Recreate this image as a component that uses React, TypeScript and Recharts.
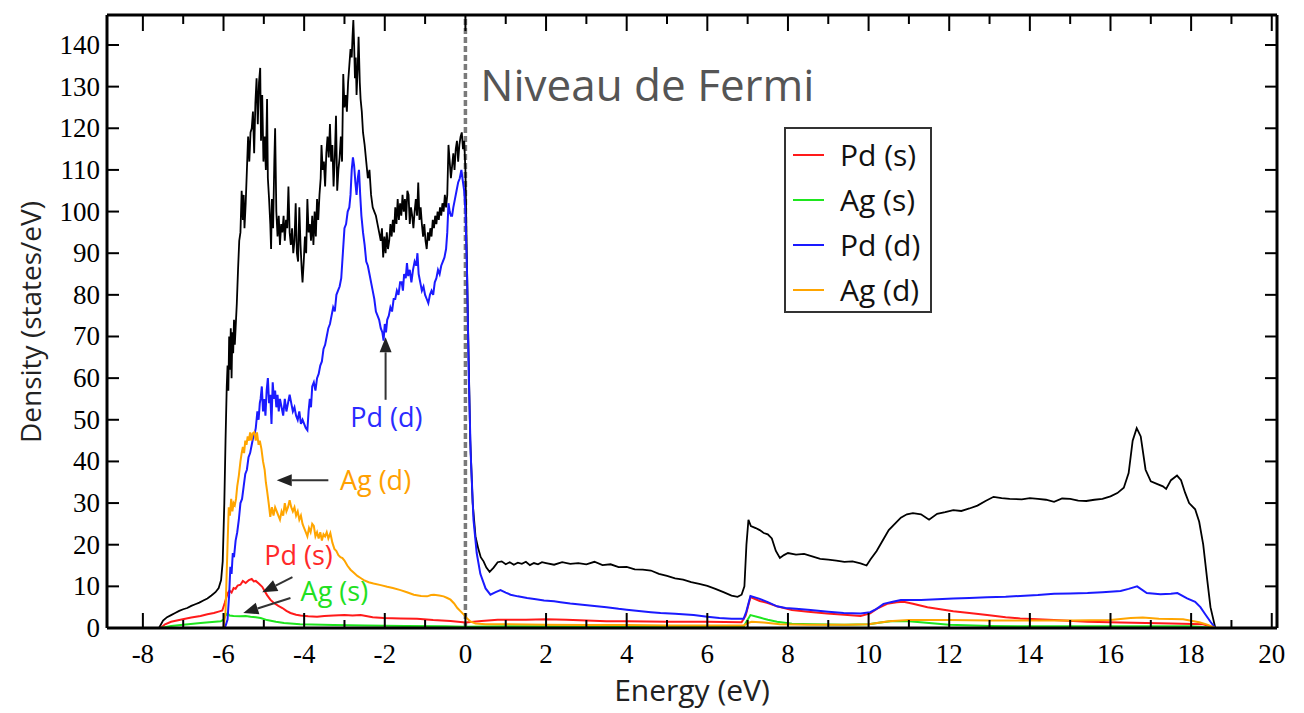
import React from 'react';
import {
  LineChart,
  Line,
  XAxis,
  YAxis,
  ReferenceLine,
  ReferenceDot,
} from 'recharts';

// density of states, [energy (eV), states/eV]
const totalDos: [number, number][] = [
  [-7.6, 0], [-7.5, 1.8], [-7.4, 2.6], [-7.3, 3.1], [-7.2, 3.6], [-7.1, 4.1], [-7.0, 4.5], [-6.9, 4.8],
  [-6.8, 5.3], [-6.7, 5.7], [-6.6, 6.1], [-6.5, 6.6], [-6.4, 7.1], [-6.3, 7.8], [-6.2, 8.6], [-6.12, 9.6],
  [-6.06, 11.5], [-6.02, 16], [-5.98, 30], [-5.95, 45], [-5.92, 58], [-5.9, 63], [-5.88, 57], [-5.86, 70],
  [-5.84, 62], [-5.82, 72], [-5.8, 60], [-5.78, 71], [-5.76, 66], [-5.74, 74], [-5.72, 68], [-5.7, 72],
  [-5.67, 78], [-5.64, 86], [-5.61, 93], [-5.58, 95], [-5.55, 105], [-5.52, 98], [-5.5, 104], [-5.48, 96],
  [-5.45, 102], [-5.42, 110], [-5.39, 118], [-5.36, 112], [-5.33, 119], [-5.3, 120], [-5.27, 124], [-5.24, 114],
  [-5.21, 126], [-5.18, 132], [-5.15, 121], [-5.12, 131], [-5.09, 134.5], [-5.07, 117], [-5.04, 128], [-5.01, 112],
  [-4.98, 118], [-4.95, 110], [-4.92, 127], [-4.9, 108], [-4.87, 103], [-4.84, 97], [-4.82, 91], [-4.8, 103],
  [-4.77, 96], [-4.74, 112], [-4.72, 120], [-4.69, 100], [-4.66, 94], [-4.63, 99], [-4.6, 92], [-4.57, 97],
  [-4.54, 95], [-4.51, 99], [-4.48, 93], [-4.45, 98], [-4.42, 96], [-4.39, 106], [-4.36, 95], [-4.33, 92],
  [-4.3, 96], [-4.27, 90], [-4.24, 93], [-4.21, 102], [-4.18, 90], [-4.15, 88], [-4.12, 101], [-4.09, 92],
  [-4.06, 86], [-4.04, 83], [-4.01, 88], [-3.98, 94], [-3.95, 90], [-3.92, 103], [-3.89, 95], [-3.86, 97],
  [-3.83, 93], [-3.8, 99], [-3.77, 92], [-3.74, 100], [-3.71, 94], [-3.68, 103], [-3.65, 98], [-3.62, 104],
  [-3.59, 108], [-3.57, 116], [-3.54, 110], [-3.51, 112], [-3.48, 106], [-3.45, 114], [-3.42, 118], [-3.39, 113],
  [-3.36, 121], [-3.33, 112], [-3.3, 116], [-3.27, 106], [-3.24, 113], [-3.21, 123], [-3.18, 105], [-3.15, 110],
  [-3.12, 113], [-3.09, 118], [-3.06, 112], [-3.03, 133], [-3.0, 125], [-2.97, 128], [-2.94, 124], [-2.91, 131],
  [-2.88, 135], [-2.85, 139], [-2.82, 137], [-2.8, 142], [-2.78, 146], [-2.76, 140], [-2.74, 132], [-2.72, 137],
  [-2.7, 128], [-2.67, 135], [-2.65, 142], [-2.62, 131], [-2.6, 127], [-2.57, 124], [-2.54, 119], [-2.5, 116],
  [-2.46, 112], [-2.42, 108], [-2.38, 110], [-2.34, 104], [-2.3, 101], [-2.26, 100], [-2.22, 99], [-2.18, 97],
  [-2.14, 95], [-2.1, 93], [-2.07, 96], [-2.04, 89], [-2.01, 94], [-1.98, 90], [-1.95, 95], [-1.92, 91],
  [-1.89, 93], [-1.86, 97], [-1.83, 94], [-1.8, 98], [-1.77, 95], [-1.74, 101], [-1.71, 97], [-1.68, 103],
  [-1.65, 98], [-1.62, 102], [-1.59, 99], [-1.56, 104], [-1.53, 100], [-1.5, 103], [-1.47, 98], [-1.44, 105],
  [-1.41, 104], [-1.38, 97], [-1.35, 101], [-1.32, 99], [-1.29, 96], [-1.26, 100], [-1.23, 103], [-1.2, 99],
  [-1.17, 107], [-1.14, 98], [-1.11, 101], [-1.08, 97], [-1.05, 94], [-1.02, 97], [-0.99, 93], [-0.96, 91],
  [-0.93, 95], [-0.9, 93], [-0.87, 96], [-0.84, 94], [-0.81, 98], [-0.78, 96], [-0.75, 99], [-0.72, 97],
  [-0.69, 100], [-0.66, 98], [-0.63, 101], [-0.6, 99], [-0.57, 102], [-0.54, 100], [-0.51, 104], [-0.48, 101],
  [-0.45, 104], [-0.42, 116], [-0.39, 112], [-0.36, 108], [-0.33, 111], [-0.3, 114], [-0.27, 110], [-0.24, 115],
  [-0.21, 117], [-0.18, 112], [-0.15, 116], [-0.12, 118], [-0.09, 119], [-0.06, 115], [-0.03, 117], [0.0, 110],
  [0.03, 92], [0.07, 70], [0.12, 45], [0.18, 30], [0.25, 22], [0.32, 19], [0.38, 17], [0.45, 16],
  [0.52, 14.5], [0.6, 13.5], [0.7, 14.5], [0.8, 15.8], [0.9, 16], [1.0, 15.3], [1.1, 15.8], [1.2, 15.2],
  [1.3, 15.7], [1.4, 15.4], [1.5, 15.9], [1.6, 15.1], [1.7, 15.6], [1.8, 15.3], [1.9, 15.8], [2.0, 15.6],
  [2.2, 15.2], [2.4, 15.8], [2.6, 15.4], [2.8, 15.6], [3.0, 15.3], [3.2, 15.9], [3.4, 15.1], [3.6, 15.3],
  [3.8, 14.6], [4.0, 14.7], [4.2, 14.1], [4.4, 14.0], [4.6, 13.8], [4.8, 13.0], [5.0, 12.5], [5.2, 11.9],
  [5.4, 11.6], [5.6, 11.0], [5.8, 10.6], [6.0, 10.1], [6.2, 9.4], [6.4, 8.6], [6.6, 7.8], [6.75, 7.5],
  [6.85, 8.0], [6.92, 10], [6.97, 20], [7.02, 26], [7.08, 24.5], [7.2, 24], [7.3, 23.5], [7.4, 22.8],
  [7.5, 22.5], [7.6, 21.5], [7.7, 18.5], [7.8, 16.8], [7.9, 17.5], [8.0, 18], [8.2, 17.6], [8.4, 17.8],
  [8.6, 17.2], [8.8, 16.6], [9.0, 16.4], [9.2, 16.2], [9.4, 15.9], [9.6, 16.0], [9.8, 15.5], [9.95, 15.0],
  [10.05, 16.5], [10.2, 18.5], [10.35, 21], [10.5, 23.5], [10.65, 25], [10.8, 26.5], [10.95, 27.3], [11.1, 27.6],
  [11.3, 27.3], [11.5, 26], [11.7, 27.4], [11.9, 27.8], [12.1, 28.3], [12.3, 28.1], [12.5, 28.7], [12.7, 29.4],
  [12.9, 30.5], [13.1, 31.5], [13.3, 31.2], [13.5, 31.0], [13.8, 30.9], [14.0, 31.2], [14.2, 31.0], [14.4, 30.8],
  [14.6, 30.3], [14.8, 31.1], [15.0, 31.0], [15.2, 30.6], [15.4, 30.5], [15.6, 30.8], [15.8, 31.0], [16.0, 31.6],
  [16.17, 32.4], [16.33, 33.7], [16.45, 37.2], [16.55, 45], [16.65, 48], [16.75, 46], [16.87, 38], [17.0, 35.2],
  [17.15, 34.6], [17.3, 34], [17.38, 33.4], [17.5, 35.5], [17.65, 36.6], [17.75, 35.5], [17.85, 32.5], [17.95, 30],
  [18.1, 28.5], [18.2, 25.5], [18.3, 20], [18.4, 11.5], [18.48, 5], [18.6, 0],
];

const pdS: [number, number][] = [
  [-7.56, 0], [-7.45, 0.9], [-7.3, 1.5], [-7.07, 2], [-6.8, 2.5], [-6.57, 2.9], [-6.4, 3.3], [-6.24, 3.6],
  [-6.1, 4], [-6.03, 4.2], [-5.97, 6], [-5.9, 8.3], [-5.85, 9], [-5.8, 8.5], [-5.75, 9.6], [-5.7, 9.4],
  [-5.65, 10.2], [-5.58, 10.4], [-5.52, 11.3], [-5.45, 10.8], [-5.37, 11.5], [-5.3, 11.8], [-5.25, 11.2], [-5.2, 11.3],
  [-5.12, 10.6], [-5.04, 9.9], [-4.98, 8.9], [-4.92, 7.9], [-4.84, 6.8], [-4.75, 6], [-4.64, 5.3], [-4.54, 4.8],
  [-4.44, 4.1], [-4.34, 3.6], [-4.2, 3.2], [-4.09, 3], [-3.9, 2.8], [-3.68, 2.7], [-3.5, 2.9], [-3.27, 3.0],
  [-3.0, 3.1], [-2.8, 3.0], [-2.6, 3.1], [-2.3, 2.6], [-2.03, 2.4], [-1.6, 2.3], [-1.2, 2.2], [-0.8, 1.9],
  [-0.37, 1.7], [0.0, 1.3], [0.4, 1.7], [0.8, 2.0], [1.5, 2.0], [2.0, 2.1], [2.5, 2.0], [3.0, 1.8],
  [3.5, 1.6], [4.0, 1.6], [5.0, 1.5], [6.0, 1.5], [6.85, 1.4], [6.95, 3], [7.07, 7.4], [7.3, 6.5],
  [7.5, 6], [7.73, 5.2], [8.1, 4.3], [8.5, 3.9], [8.97, 3.5], [9.4, 3.2], [9.8, 2.9], [10.04, 3.5],
  [10.2, 4.6], [10.46, 5.8], [10.7, 6.2], [10.87, 6.3], [11.1, 5.8], [11.46, 5], [12.1, 4], [12.5, 3.6],
  [12.94, 3.1], [13.4, 2.6], [13.76, 2.3], [14.6, 1.9], [15.43, 1.5], [16.25, 1.3], [17.5, 1.1], [18.3, 0.9],
  [18.6, 0],
];

const agS: [number, number][] = [
  [-7.56, 0], [-7.3, 0.5], [-7.0, 0.8], [-6.57, 1.2], [-6.07, 1.6], [-6.0, 2], [-5.95, 3], [-5.9, 3.6],
  [-5.85, 3], [-5.75, 2.9], [-5.6, 2.8], [-5.45, 2.9], [-5.33, 2.7], [-5.2, 2.6], [-5.08, 2.4], [-4.92, 1.9],
  [-4.7, 1.5], [-4.5, 1.2], [-4.1, 0.9], [-3.27, 0.7], [-2.5, 0.6], [-1.5, 0.5], [-0.5, 0.4], [0.0, 0.3],
  [1.0, 0.4], [2.0, 0.4], [3.0, 0.35], [4.0, 0.35], [5.0, 0.3], [6.0, 0.3], [6.9, 0.3], [6.97, 1.5],
  [7.07, 3.1], [7.3, 2.5], [7.5, 2], [7.73, 1.5], [8.1, 1], [8.6, 0.9], [9.4, 0.8], [10.0, 0.9],
  [10.3, 1.3], [10.6, 1.7], [11.0, 1.6], [11.5, 1.2], [12.0, 0.8], [13.0, 0.5], [14.0, 0.4], [16.0, 0.4],
  [18.0, 0.4], [18.6, 0],
];

const pdD: [number, number][] = [
  [-6.0, 0], [-5.95, 0.5], [-5.9, 2], [-5.86, 8], [-5.83, 14.7], [-5.8, 13], [-5.77, 18], [-5.74, 17],
  [-5.7, 21], [-5.66, 23], [-5.62, 26], [-5.58, 30], [-5.54, 31], [-5.5, 34], [-5.46, 37], [-5.42, 38],
  [-5.38, 41], [-5.34, 42], [-5.3, 44], [-5.26, 46], [-5.22, 47], [-5.2, 48], [-5.16, 52], [-5.13, 50],
  [-5.1, 54], [-5.08, 55], [-5.05, 58], [-5.02, 52], [-4.99, 55], [-4.96, 51], [-4.93, 57], [-4.9, 60],
  [-4.87, 54], [-4.84, 56], [-4.81, 49], [-4.78, 59], [-4.75, 55], [-4.72, 57], [-4.69, 53], [-4.66, 56],
  [-4.63, 52], [-4.6, 55], [-4.56, 53], [-4.52, 51], [-4.48, 55], [-4.44, 52], [-4.4, 54], [-4.36, 56],
  [-4.32, 54], [-4.28, 52], [-4.24, 53], [-4.2, 51], [-4.16, 50], [-4.12, 52], [-4.08, 49], [-4.04, 50],
  [-4.0, 49], [-3.96, 48], [-3.92, 47.5], [-3.89, 52], [-3.86, 55], [-3.83, 53], [-3.8, 58], [-3.76, 59],
  [-3.72, 57], [-3.68, 60], [-3.64, 61], [-3.6, 63], [-3.56, 64], [-3.52, 67], [-3.48, 68], [-3.44, 70],
  [-3.4, 72], [-3.36, 73], [-3.32, 75], [-3.28, 77], [-3.24, 76], [-3.2, 80], [-3.16, 81], [-3.12, 82],
  [-3.08, 84], [-3.04, 90], [-3.0, 96], [-2.96, 97], [-2.92, 100], [-2.88, 101], [-2.85, 104], [-2.82, 110],
  [-2.79, 113], [-2.76, 111], [-2.73, 107], [-2.7, 104], [-2.67, 108], [-2.64, 110], [-2.61, 104], [-2.58, 99],
  [-2.54, 95], [-2.5, 92], [-2.46, 88], [-2.42, 87], [-2.38, 85], [-2.34, 83], [-2.3, 81], [-2.26, 79],
  [-2.22, 76], [-2.18, 75], [-2.14, 74], [-2.1, 72], [-2.06, 71], [-2.03, 69], [-2.0, 73], [-1.97, 71],
  [-1.94, 74], [-1.9, 75], [-1.86, 77], [-1.82, 76], [-1.78, 79], [-1.74, 79], [-1.7, 81], [-1.66, 80],
  [-1.62, 83], [-1.58, 83], [-1.55, 81], [-1.52, 85], [-1.48, 84], [-1.45, 87.6], [-1.42, 84.5], [-1.38, 86],
  [-1.34, 83], [-1.3, 86], [-1.26, 88], [-1.22, 87], [-1.19, 90], [-1.16, 85], [-1.12, 83], [-1.08, 81],
  [-1.04, 82], [-1.0, 80], [-0.96, 79], [-0.92, 78], [-0.88, 80], [-0.84, 81], [-0.8, 80], [-0.76, 83],
  [-0.72, 84], [-0.68, 86], [-0.64, 85], [-0.6, 87], [-0.56, 88], [-0.52, 89], [-0.48, 91], [-0.45, 95],
  [-0.42, 102], [-0.39, 100], [-0.36, 99], [-0.33, 99], [-0.3, 101], [-0.26, 103], [-0.22, 105], [-0.18, 107],
  [-0.14, 108], [-0.1, 110], [-0.06, 107], [-0.03, 105], [0.0, 100], [0.04, 85], [0.08, 62], [0.13, 42],
  [0.2, 26], [0.28, 18], [0.37, 13], [0.5, 9.5], [0.62, 8], [0.75, 8.6], [0.87, 9.1], [1.0, 8.5],
  [1.12, 8], [1.3, 7.6], [1.53, 7.2], [1.75, 6.9], [1.95, 6.6], [2.2, 6.4], [2.36, 6.2], [2.6, 5.9],
  [2.9, 5.6], [3.2, 5.3], [3.5, 5.0], [3.8, 4.6], [4.0, 4.4], [4.3, 4.1], [4.6, 3.8], [4.84, 3.6],
  [5.2, 3.4], [5.66, 3.1], [6.0, 2.7], [6.3, 2.4], [6.6, 2.2], [6.9, 2.2], [6.97, 4], [7.07, 7.7],
  [7.3, 7.0], [7.5, 6.2], [7.73, 5.2], [7.94, 4.8], [8.2, 4.6], [8.56, 4.3], [9.0, 3.9], [9.38, 3.6],
  [9.8, 3.5], [10.04, 3.8], [10.2, 4.6], [10.37, 5.8], [10.6, 6.3], [10.8, 6.7], [11.3, 6.7], [11.7, 6.9],
  [12.1, 7.1], [12.5, 7.2], [12.94, 7.4], [13.4, 7.5], [13.76, 7.7], [14.2, 7.9], [14.6, 8.2], [15.0, 8.3],
  [15.43, 8.4], [15.8, 8.6], [16.25, 8.9], [16.45, 9.4], [16.66, 10], [16.9, 8.4], [17.24, 8.1], [17.5, 8.2],
  [17.66, 8.4], [17.9, 7.1], [18.1, 6.3], [18.23, 5], [18.35, 3.3], [18.48, 1.5], [18.6, 0],
];

const agD: [number, number][] = [
  [-6.0, 0], [-5.95, 4], [-5.9, 20], [-5.87, 29], [-5.84, 27], [-5.81, 31], [-5.78, 28], [-5.75, 30],
  [-5.72, 29.5], [-5.69, 31], [-5.66, 34], [-5.62, 36.6], [-5.58, 40], [-5.55, 42], [-5.52, 43.5], [-5.49, 42],
  [-5.46, 45], [-5.43, 44], [-5.4, 46], [-5.37, 45], [-5.34, 47], [-5.31, 45], [-5.28, 46.7], [-5.24, 47],
  [-5.2, 45], [-5.17, 47], [-5.13, 44], [-5.1, 45], [-5.06, 43], [-5.02, 40], [-4.98, 38], [-4.95, 35],
  [-4.92, 33], [-4.88, 30], [-4.84, 26.7], [-4.8, 29], [-4.76, 27], [-4.72, 29], [-4.68, 28], [-4.64, 27],
  [-4.6, 26], [-4.56, 28], [-4.52, 27], [-4.48, 30], [-4.44, 28], [-4.4, 29], [-4.36, 30.7], [-4.32, 29],
  [-4.28, 28], [-4.24, 29], [-4.2, 27], [-4.16, 28], [-4.12, 26], [-4.08, 27], [-4.04, 25], [-4.0, 24],
  [-3.96, 23], [-3.92, 22], [-3.88, 24], [-3.84, 23], [-3.8, 25], [-3.76, 24.5], [-3.72, 22], [-3.68, 23],
  [-3.64, 21.5], [-3.6, 23], [-3.56, 21], [-3.52, 22.5], [-3.48, 22], [-3.44, 23], [-3.4, 21.5], [-3.35, 22.8],
  [-3.3, 20.5], [-3.25, 19], [-3.2, 18.5], [-3.15, 17.5], [-3.1, 17], [-3.05, 16.8], [-3.0, 16.2], [-2.93, 15],
  [-2.85, 14], [-2.76, 13.2], [-2.68, 12.5], [-2.6, 12], [-2.52, 11.5], [-2.4, 11], [-2.28, 10.7], [-2.1, 10.3],
  [-1.94, 9.9], [-1.8, 9.6], [-1.61, 9.1], [-1.45, 8.6], [-1.28, 8], [-1.1, 7.7], [-0.95, 7.6], [-0.85, 7.9],
  [-0.78, 8], [-0.65, 7.8], [-0.54, 7.6], [-0.45, 7.2], [-0.37, 6.8], [-0.28, 5.9], [-0.2, 4.8], [-0.1, 3.8],
  [-0.04, 3.2], [0.05, 2.2], [0.12, 1.6], [0.25, 1.1], [0.5, 0.9], [1.0, 0.9], [2.0, 0.8], [3.0, 0.7],
  [4.0, 0.7], [5.0, 0.6], [6.0, 0.6], [6.9, 0.6], [7.0, 1.2], [7.1, 1.5], [7.4, 1.3], [7.8, 0.9],
  [8.5, 0.8], [9.5, 0.8], [10.0, 0.9], [10.5, 1.6], [11.0, 1.9], [12.0, 1.9], [13.0, 1.8], [14.0, 1.8],
  [15.0, 1.8], [16.0, 1.9], [16.5, 2.4], [16.8, 2.5], [17.2, 2.2], [17.8, 2.1], [18.2, 1.4], [18.4, 0.8],
  [18.6, 0],
];

const xTicks = [-8, -7, -6, -5, -4, -3, -2, -1, 0, 1, 2, 3, 4, 5, 6, 7, 8, 9, 10, 11, 12, 13, 14, 15, 16, 17, 18, 19, 20];
const yTicks = [0, 10, 20, 30, 40, 50, 60, 70, 80, 90, 100, 110, 120, 130, 140];
const xDomain: [number, number] = [-8.89, 20.13];
const yDomain: [number, number] = [0, 147.2];

const series = [
  { key: 'total', name: 'Total', color: '#000000', pts: totalDos },
  { key: 'pdS', name: 'Pd (s)', color: '#ff1a1a', pts: pdS },
  { key: 'agS', name: 'Ag (s)', color: '#1ee61e', pts: agS },
  { key: 'pdD', name: 'Pd (d)', color: '#1a1aff', pts: pdD },
  { key: 'agD', name: 'Ag (d)', color: '#ffa500', pts: agD },
];

// annotations: label text, text anchor point, arrow start and arrow tip
const notes = [
  { text: 'Pd (d)', color: '#2b2bff', at: [-1.96, 48.3], from: [-1.98, 54.8], to: [-1.98, 69.8] },
  { text: 'Ag (d)', color: '#ffa000', at: [-2.23, 33.1], from: [-3.4, 35.5], to: [-4.68, 35.5] },
  { text: 'Pd (s)', color: '#ff2a2a', at: [-4.14, 15.1], from: [-4.29, 12.2], to: [-5.04, 8.6] },
  { text: 'Ag (s)', color: '#22e022', at: [-3.25, 6.6], from: [-4.34, 7.2], to: [-5.51, 3.6] },
];

const chartData = series
  .flatMap((s) => s.pts.map(([x, y]) => ({ x, [s.key]: y })))
  .sort((a, b) => a.x - b.x);

const serif = '"Liberation Serif", "Times New Roman", serif';
const sans = '"Open Sans", "Noto Sans", sans-serif';

const BottomTick = (props: any) => {
  const { x, y, payload } = props;
  const major = payload.value % 2 === 0;
  return (
    <g>
      <line x1={x} x2={x} y1={y} y2={y - (major ? 15 : 8)} stroke="#000" strokeWidth={2} />
      {major && (
        <text x={x} y={y + 35} textAnchor="middle" fontFamily={serif} fontSize={27} fill="#000">
          {payload.value}
        </text>
      )}
    </g>
  );
};

const TopTick = (props: any) => {
  const { x, y, payload } = props;
  const major = payload.value % 2 === 0;
  return <line x1={x} x2={x} y1={y} y2={y + (major ? 16 : 9)} stroke="#000" strokeWidth={2} />;
};

const LeftTick = (props: any) => {
  const { x, y, payload } = props;
  return (
    <g>
      <line x1={x} x2={x + 12} y1={y} y2={y} stroke="#000" strokeWidth={2} />
      <text x={x - 7} y={y + 9} textAnchor="end" fontFamily={serif} fontSize={27} fill="#000">
        {payload.value}
      </text>
    </g>
  );
};

const RightTick = (props: any) => {
  const { x, y } = props;
  return <line x1={x} x2={x - 12} y1={y} y2={y} stroke="#000" strokeWidth={2} />;
};

const ArrowShape = (props: any) => {
  const { x1, y1, x2, y2 } = props;
  const dx = x2 - x1;
  const dy = y2 - y1;
  const len = Math.hypot(dx, dy) || 1;
  const ux = dx / len;
  const uy = dy / len;
  const bx = x2 - ux * 15;
  const by = y2 - uy * 15;
  const pts = `${x2},${y2} ${bx - uy * 6},${by + ux * 6} ${bx + uy * 6},${by - ux * 6}`;
  return (
    <g>
      <line x1={x1} y1={y1} x2={bx} y2={by} stroke="#333" strokeWidth={2} />
      <polygon points={pts} fill="#222" />
    </g>
  );
};

const W = 1290;
const H = 705;
const PLOT_MID_Y = 314; // vertical middle of the plot area in svg pixels

export default function App() {
  return (
    <div style={{ position: 'relative', width: W, height: H, background: '#fff' }}>
      <LineChart width={W} height={H} data={chartData} margin={{ top: 2, right: 11, bottom: 0, left: 9 }}>
        <XAxis
          dataKey="x"
          type="number"
          domain={xDomain}
          allowDataOverflow
          ticks={xTicks}
          interval={0}
          height={85}
          tickSize={0}
          tickMargin={0}
          tickLine={false}
          tick={<BottomTick />}
          axisLine={{ stroke: '#000', strokeWidth: 3 }}
          label={{
            content: () => (
              <text x={684} y={693} textAnchor="middle" fontFamily={sans} fontSize={30} fill="#222">
                Energy (eV)
              </text>
            ),
          }}
        />
        <XAxis
          xAxisId="top"
          orientation="top"
          dataKey="x"
          type="number"
          domain={xDomain}
          allowDataOverflow
          ticks={xTicks}
          interval={0}
          height={5}
          tickSize={0}
          tickMargin={0}
          tickLine={false}
          tick={<TopTick />}
          axisLine={{ stroke: '#000', strokeWidth: 3 }}
        />
        <YAxis
          type="number"
          domain={yDomain}
          allowDataOverflow
          ticks={yTicks}
          interval={0}
          width={90}
          tickSize={0}
          tickMargin={0}
          tickLine={false}
          tick={<LeftTick />}
          axisLine={{ stroke: '#000', strokeWidth: 3 }}
          label={{
            content: () => (
              <text
                x={22}
                y={PLOT_MID_Y}
                textAnchor="middle"
                dominantBaseline="central"
                transform={`rotate(-90 22 ${PLOT_MID_Y})`}
                fontFamily={sans}
                fontSize={28}
                fill="#222"
              >
                Density (states/eV)
              </text>
            ),
          }}
        />
        <YAxis
          yAxisId="right"
          orientation="right"
          type="number"
          domain={yDomain}
          allowDataOverflow
          ticks={yTicks}
          interval={0}
          width={10}
          tickSize={0}
          tickMargin={0}
          tickLine={false}
          tick={<RightTick />}
          axisLine={{ stroke: '#000', strokeWidth: 3 }}
        />
        <ReferenceLine x={0} stroke="#7a7a7a" strokeWidth={3.5} strokeDasharray="6 3" />
        {series.map((s) => (
          <Line
            key={s.key}
            dataKey={s.key}
            name={s.name}
            type="linear"
            stroke={s.color}
            strokeWidth={s.key === 'total' ? 1.8 : 2}
            dot={false}
            activeDot={false}
            connectNulls
            isAnimationActive={false}
          />
        ))}
        <ReferenceDot
          x={0.37}
          y={126.5}
          r={0}
          ifOverflow="visible"
          shape={(p: any) => (
            <text x={p.cx} y={p.cy} fontFamily={sans} fontSize={44} fill="#555">
              Niveau de Fermi
            </text>
          )}
        />
        {notes.map((n) => (
          <ReferenceLine
            key={n.text + '-arrow'}
            segment={[
              { x: n.from[0], y: n.from[1] },
              { x: n.to[0], y: n.to[1] },
            ]}
            ifOverflow="visible"
            shape={<ArrowShape />}
          />
        ))}
        {notes.map((n) => (
          <ReferenceDot
            key={n.text + '-label'}
            x={n.at[0]}
            y={n.at[1]}
            r={0}
            ifOverflow="visible"
            shape={(p: any) => (
              <text x={p.cx} y={p.cy} textAnchor="middle" fontFamily={sans} fontSize={27} fill={n.color}>
                {n.text}
              </text>
            )}
          />
        ))}
      </LineChart>
      <div
        style={{
          position: 'absolute',
          left: 776,
          top: 119,
          width: 144,
          height: 182,
          border: '2px solid #333',
          background: '#fff',
          fontFamily: sans,
          fontSize: 30,
          color: '#111',
        }}
      >
        {series.slice(1).map((s, i) => (
          <div key={s.key} style={{ position: 'absolute', left: 0, top: 26 + i * 45, width: '100%' }}>
            <div style={{ position: 'absolute', left: 7, top: -1, width: 31, height: 2, background: s.color }} />
            <div style={{ position: 'absolute', left: 54, top: -21, lineHeight: '42px', whiteSpace: 'nowrap' }}>{s.name}</div>
          </div>
        ))}
      </div>
    </div>
  );
}
